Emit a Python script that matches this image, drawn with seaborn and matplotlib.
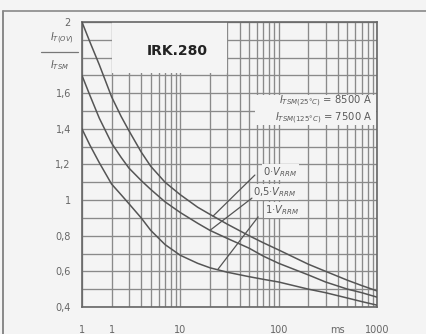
import numpy as np
import pandas as pd
import matplotlib
matplotlib.use("Agg")
import matplotlib.pyplot as plt
import seaborn as sns
from matplotlib.lines import Line2D
from matplotlib.patches import Rectangle
from matplotlib.ticker import LogLocator, NullFormatter

# ----------------------------
# data
# ----------------------------
t_ms = [1, 1.2, 1.5, 2, 2.5, 3, 4, 5, 7, 10, 15, 20, 30, 50, 70, 100, 200, 300, 500, 700, 1000]
ratio_0v = [2.00, 1.89, 1.76, 1.58, 1.47, 1.39, 1.27, 1.19, 1.10, 1.03, 0.96, 0.92, 0.865,
            0.80, 0.76, 0.72, 0.64, 0.60, 0.55, 0.52, 0.49]
ratio_05v = [1.70, 1.59, 1.46, 1.32, 1.24, 1.18, 1.11, 1.06, 0.99, 0.93, 0.87, 0.83, 0.785,
             0.73, 0.685, 0.645, 0.58, 0.54, 0.50, 0.48, 0.455]
ratio_1v = [1.40, 1.31, 1.21, 1.09, 1.03, 0.98, 0.90, 0.83, 0.75, 0.69, 0.645, 0.62, 0.595,
            0.57, 0.555, 0.54, 0.50, 0.48, 0.45, 0.43, 0.41]
curve_names = ["0V", "0.5V", "1V"]

y_ticks = [0.4, 0.6, 0.8, 1.0, 1.2, 1.4, 1.6, 2.0]
y_labels = ["0,4", "0,6", "0,8", "1", "1,2", "1,4", "1,6", "2"]
x_ticks = [1, 2, 10, 100, 400, 1000]
x_labels = ["1", "1", "10", "100", "ms", "1000"]

df = pd.DataFrame({
    "t": t_ms * 3,
    "ratio": ratio_0v + ratio_05v + ratio_1v,
    "curve": [n for n in curve_names for _ in t_ms],
})

# ----------------------------
# figure
# ----------------------------
bg = "#f4f4f4"
grid_c = "#8a8a8a"
ink = "#5a5a5a"

sns.set_style("white")
plt.rcParams["font.family"] = ["DejaVu Sans"]

fig = plt.figure(figsize=(4.27, 3.34), dpi=100, facecolor=bg)
fig.patch.set_edgecolor("none")
fig.patch.set_linewidth(0)
ax = fig.add_axes([0.192, 0.081, 0.691, 0.853], facecolor=bg)

sns.lineplot(data=df, x="t", y="ratio", hue="curve", palette=["#555555"] * 3,
             linewidth=1.1, legend=False, ax=ax, zorder=3)

ax.set_xscale("log")
ax.set_xlim(1, 1000)
ax.set_ylim(0.4, 2.0)

ax.set_xticks(x_ticks)
ax.set_xticklabels(x_labels)
ax.xaxis.set_minor_locator(LogLocator(base=10, subs=np.arange(2, 10)))
ax.xaxis.set_minor_formatter(NullFormatter())
ax.set_yticks(y_ticks)
ax.set_yticklabels(y_labels)
ax.set_yticks(np.arange(0.4, 2.01, 0.1), minor=True)

ax.grid(which="both", color=grid_c, linewidth=0.95, zorder=1)
ax.set_axisbelow(True)
ax.tick_params(which="both", length=0, labelsize=7, labelcolor="#666666")
ax.tick_params(axis="x", pad=13)
ax.tick_params(axis="y", pad=8)
ax.set_xlabel("")
ax.set_ylabel("")
for s in ax.spines.values():
    s.set_color("#666666")
    s.set_linewidth(1.2)

# blank boxes covering the grid
ax.add_patch(Rectangle((0.102, 0.82), 0.39, 0.18, transform=ax.transAxes,
                       facecolor=bg, edgecolor="none", zorder=2))
ax.text(0.322, 0.90, "IRK.280", transform=ax.transAxes, ha="center", va="center",
        fontsize=10, fontweight="bold", color="#222222", zorder=4)

ax.add_patch(Rectangle((0.586, 0.64), 0.41, 0.105, transform=ax.transAxes,
                       facecolor=bg, edgecolor="none", zorder=2))
ax.text(0.983, 0.723, r"$I_{TSM(25°C)}$ = 8500 A", transform=ax.transAxes,
        ha="right", va="center", fontsize=7.2, color=ink, zorder=4)
ax.text(0.983, 0.663, r"$I_{TSM(125°C)}$ = 7500 A", transform=ax.transAxes,
        ha="right", va="center", fontsize=7.2, color=ink, zorder=4)

# curve labels with leader lines
labels = [(r"0·$V_{RRM}$", (0.614, 0.474), (0.586, 0.463), (21.5, 0.91)),
          (r"0,5·$V_{RRM}$", (0.58, 0.404), (0.576, 0.382), (20, 0.83)),
          (r"1·$V_{RRM}$", (0.62, 0.34), (0.597, 0.316), (24, 0.61))]
for txt, tpos, lstart, lend in labels:
    ax.text(tpos[0], tpos[1], txt, transform=ax.transAxes, ha="left", va="center",
            fontsize=7.2, color=ink, zorder=4,
            bbox=dict(facecolor=bg, edgecolor="none", pad=1))
    ax.annotate("", xy=lend, xycoords="data", xytext=lstart, textcoords="axes fraction",
                arrowprops=dict(arrowstyle="-", color="#555555", lw=0.9,
                                shrinkA=0, shrinkB=0), zorder=4)

# y axis quantity as a fraction
fig.text(0.145, 0.885, r"$I_{T(OV)}$", ha="center", va="center", fontsize=7, color=ink)
fig.add_artist(Line2D([0.095, 0.183], [0.845, 0.845], color="#777777", lw=0.9))
fig.text(0.14, 0.805, r"$I_{TSM}$", ha="center", va="center", fontsize=7, color=ink)

# outer frame of the scanned figure (left and top only)
fig.add_artist(Line2D([0.007, 0.007], [0.0, 0.967], color="#777777", lw=1.2))
fig.add_artist(Line2D([0.007, 1.0], [0.967, 0.967], color="#888888", lw=1.2))

fig.savefig("out.png", dpi=100, facecolor=bg, edgecolor="none")
